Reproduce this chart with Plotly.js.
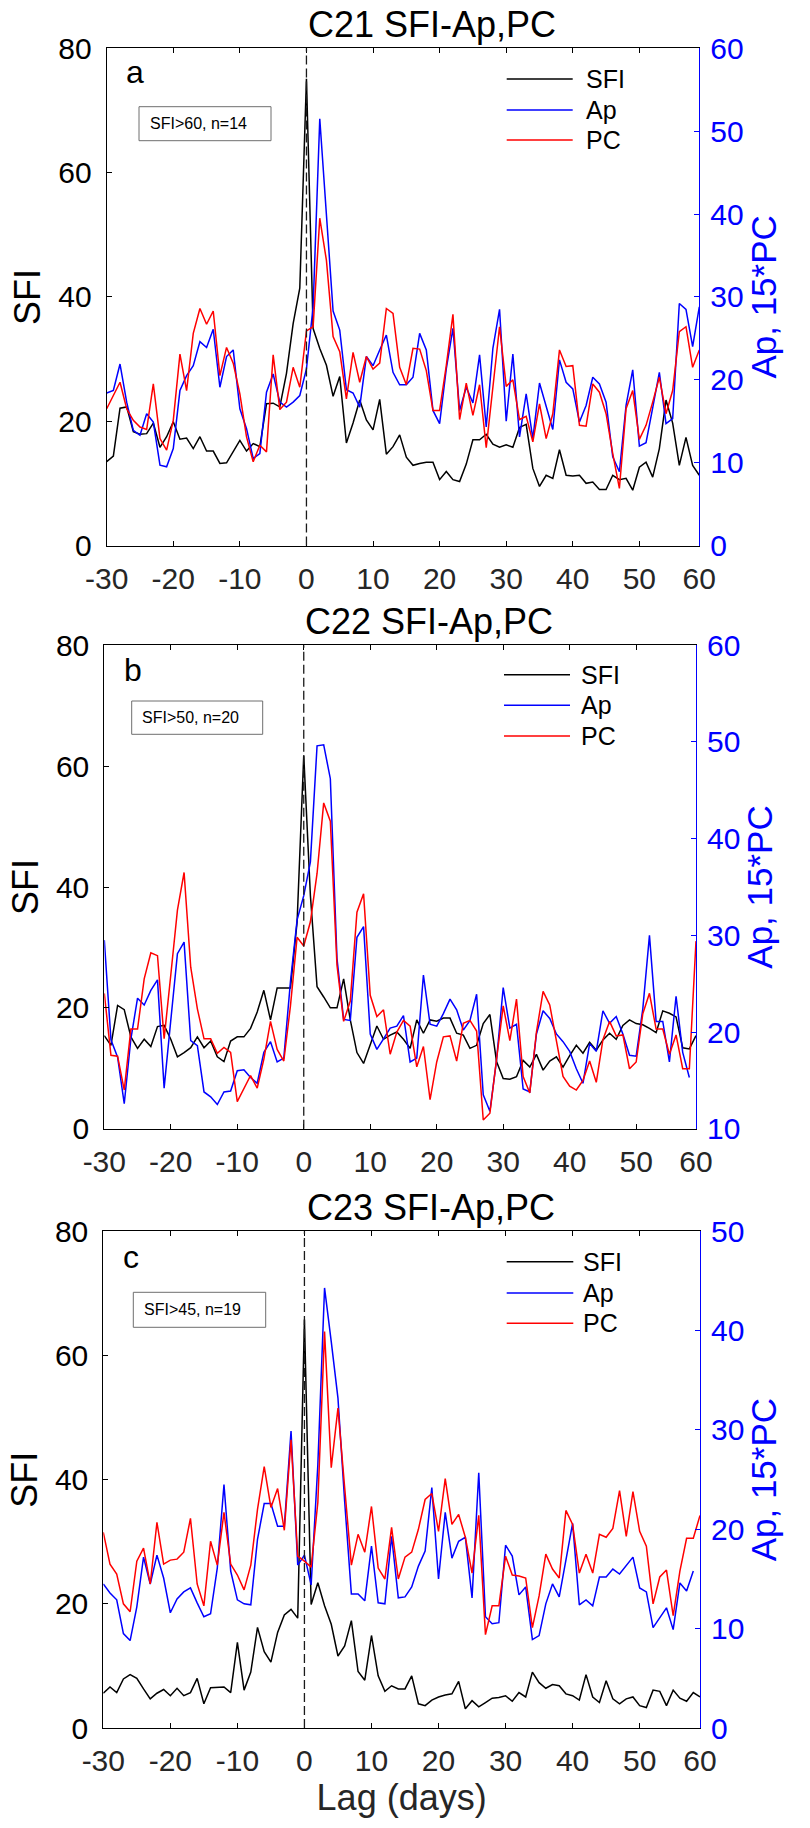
<!DOCTYPE html>
<html><head><meta charset="utf-8">
<script src="https://cdn.plot.ly/plotly-3.0.1.min.js"></script>
<style>html,body{margin:0;padding:0;background:#fff}#chart{width:810px;height:1828px}</style>
</head><body><div id="chart"></div>
<script>
// ---------- DATA ----------
const lag = [-30,-29,-28,-27,-26,-25,-24,-23,-22,-21,-20,-19,-18,-17,-16,-15,-14,-13,-12,-11,
 -10,-9,-8,-7,-6,-5,-4,-3,-2,-1,0,1,2,3,4,5,6,7,8,9,10,11,12,13,14,15,16,17,18,19,
 20,21,22,23,24,25,26,27,28,29,30,31,32,33,34,35,36,37,38,39,40,41,42,43,44,45,46,47,48,49,
 50,51,52,53,54,55,56,57,58,59];

// Panel a (C21)
const sfiC21 = [13.5,14.4,22.1,22.3,18.3,17.9,18.0,19.7,15.8,17.5,
 19.9,17.1,17.3,15.6,17.5,15.2,15.2,13.2,13.3,15.1,
 16.9,15.2,16.4,15.9,22.8,22.9,22.3,27.7,35.7,41.4,
 75.1,34.9,31.7,29.0,24.0,27.2,16.5,19.7,23.4,20.2,
 18.6,23.5,14.7,15.9,17.8,14.2,12.9,13.2,13.4,13.4,
 10.6,11.9,10.6,10.3,13.1,17.0,17.0,17.9,16.3,15.8,
 16.2,15.8,19.0,19.5,12.4,9.5,11.3,10.8,15.4,11.3,
 11.2,11.3,10.0,10.2,9.0,9.0,11.3,10.6,10.8,8.9,
 12.6,13.4,11.0,15.6,23.4,19.7,12.9,17.4,12.9,11.3];
const apC21 = [18.4,18.7,21.9,17.3,13.9,13.3,15.9,14.9,9.7,9.5,
 11.7,18.7,20.5,21.7,24.6,23.9,26.1,19.1,22.8,23.6,
 16.5,14.1,10.5,11.1,18.5,20.7,17.3,16.7,17.3,18.1,
 21.3,28.8,51.5,40.0,28.3,26.0,18.8,18.4,16.7,22.8,
 21.7,23.6,25.4,20.9,19.4,19.4,20.3,25.6,23.6,16.3,
 14.7,21.3,26.2,16.3,19.1,17.2,23.0,14.3,23.8,28.5,
 15.0,23.1,13.1,18.3,12.9,19.6,16.7,14.0,22.4,19.7,
 18.9,14.9,16.9,20.3,19.5,17.3,10.7,8.9,16.9,21.2,
 12.0,12.4,16.6,20.9,14.7,15.3,29.2,28.5,24.0,28.8];
const pcC21 = [16.5,18.1,19.7,16.5,15.1,14.3,14.0,19.5,12.9,11.5,
 15.1,23.1,18.7,25.6,28.6,26.7,28.3,20.5,23.9,22.0,
 18.3,13.1,10.1,12.1,11.3,23.0,16.4,17.3,21.5,19.1,
 25.9,26.4,39.5,34.4,25.2,23.4,17.7,23.3,19.7,22.8,
 21.3,22.0,28.6,28.0,21.5,19.4,23.8,23.7,21.1,16.3,
 16.3,21.7,27.9,15.2,19.6,15.7,19.4,11.8,19.5,26.4,
 19.2,20.0,15.2,15.6,12.5,17.1,12.9,15.9,23.6,21.6,
 21.7,14.5,14.4,19.5,18.5,15.9,11.1,6.9,16.5,18.7,
 12.8,14.5,17.3,20.3,15.9,18.7,25.8,26.4,21.5,23.6];

// Panel b (C22)
const sfiC22 = [15.4,13.8,20.4,19.7,15.2,13.3,14.8,13.6,16.9,17.1,
 14.8,11.9,12.6,13.4,15.2,13.4,14.5,11.9,11.1,14.5,
 15.2,15.2,16.6,19.3,22.9,18.0,23.3,23.3,23.3,34.2,
 61.8,38.6,23.5,21.8,20.0,20.0,24.8,18.0,12.6,10.8,
 13.8,17.0,14.8,15.5,16.0,14.8,13.3,18.0,15.8,18.0,
 17.8,18.3,18.3,15.8,15.5,13.3,13.8,17.4,18.9,11.1,
 8.3,8.2,8.6,11.3,10.2,12.3,9.7,11.2,11.9,10.2,
 12.1,13.8,12.5,14.3,13.0,14.7,15.8,14.8,17.1,18.0,
 17.4,17.2,16.6,15.9,19.5,19.1,18.5,13.4,13.2,15.4];
const apC22 = [29.5,19.2,17.4,12.6,19.3,23.5,22.8,24.3,25.4,14.2,
 21.2,28.1,29.3,19.1,18.6,13.8,13.3,12.5,13.8,13.9,
 16.0,16.1,15.3,14.7,17.9,19.0,16.9,17.3,25.2,31.6,
 34.1,37.6,49.6,49.7,46.2,27.6,21.3,21.2,29.8,30.9,
 19.8,18.2,19.3,20.4,20.6,21.7,16.9,17.3,25.9,20.8,
 20.6,21.9,23.4,22.3,20.2,21.2,23.9,13.5,11.8,17.1,
 24.6,20.4,20.8,14.1,13.8,19.8,22.2,21.4,19.8,19.0,
 18.0,16.2,14.7,18.8,18.0,22.2,20.9,21.6,19.8,17.6,
 17.5,22.4,30.0,21.1,21.1,16.9,23.7,17.9,15.3,null];
const pcC22 = [24.0,17.6,17.5,14.0,20.3,20.3,25.5,28.2,27.9,19.3,
 25.9,32.6,36.5,26.7,22.4,19.3,19.3,17.8,18.4,17.9,
 12.8,14.1,15.5,14.2,17.2,21.1,18.2,17.0,22.7,29.8,
 28.9,31.4,36.4,43.7,41.8,26.9,21.1,23.2,32.4,34.3,
 23.8,21.6,22.3,17.7,20.0,21.2,20.6,16.4,18.5,13.0,
 16.9,19.5,19.6,17.0,20.9,21.2,20.1,10.9,11.6,17.2,
 22.7,19.1,23.4,15.4,13.7,20.0,24.2,22.8,19.2,15.4,
 14.4,14.0,15.0,17.0,14.8,19.2,21.1,19.6,19.7,16.2,
 16.9,21.9,24.0,20.3,20.3,17.7,19.7,16.2,16.2,29.4];

// Panel c (C23)
const sfiC23 = [5.6,6.6,5.7,7.9,8.6,8.0,6.3,4.7,5.6,6.2,
 5.2,6.4,5.2,5.7,8.0,3.9,6.5,6.6,6.6,5.7,
 13.8,6.1,9.0,16.2,12.3,10.6,15.4,18.2,19.1,17.7,
 65.8,19.9,23.4,19.7,16.7,11.6,13.2,17.3,9.1,7.7,
 14.9,8.4,5.9,6.8,6.3,6.3,8.4,3.9,3.6,4.5,
 5.0,5.3,5.5,7.5,3.1,4.4,3.4,4.1,4.8,4.9,
 5.2,4.3,5.7,5.0,9.0,7.3,6.4,7.0,6.8,5.5,
 5.2,4.5,8.6,5.0,4.1,7.6,4.7,3.9,4.7,5.0,
 3.6,3.3,6.1,5.9,3.6,6.1,4.8,4.3,5.7,5.0];
const apC23 = [14.5,13.6,12.9,9.5,8.8,12.2,17.2,14.5,17.4,15.1,
 11.6,13.0,13.7,14.1,12.6,11.2,11.5,16.1,24.5,15.8,
 12.9,12.5,12.4,19.0,22.6,22.6,20.3,20.3,29.9,16.4,
 17.4,14.4,26.5,44.3,38.9,33.2,22.8,13.5,13.5,12.8,
 18.3,12.6,12.5,19.3,13.1,13.2,14.2,16.3,17.8,24.2,
 15.0,21.7,17.1,18.8,19.2,13.1,25.7,11.2,10.5,10.6,
 18.4,17.3,13.4,14.2,8.9,9.3,12.5,14.5,13.2,17.0,
 20.6,12.4,12.9,12.3,15.2,15.2,16.0,15.5,16.3,17.2,
 14.1,13.7,10.1,11.1,12.1,9.9,14.6,13.8,15.8,null];
const pcC23 = [19.7,16.5,15.5,12.5,11.7,16.8,18.1,14.5,20.7,16.5,
 16.9,17.0,17.7,21.1,14.5,12.3,18.8,16.4,21.7,16.5,
 15.4,13.9,16.4,22.0,26.3,22.2,24.1,19.9,29.0,17.3,
 16.8,16.2,22.7,39.9,26.2,32.2,24.2,16.4,19.5,17.7,
 22.3,16.1,15.0,20.2,15.0,17.2,17.7,20.0,23.0,23.6,
 19.8,25.1,20.5,21.5,19.2,15.6,21.4,9.4,12.3,12.3,
 17.3,15.4,15.3,15.1,10.1,13.3,17.5,16.0,15.1,21.9,
 20.5,15.6,17.5,15.6,19.5,19.2,20.1,23.9,19.3,23.8,
 19.8,18.3,12.5,15.2,15.9,11.3,15.8,19.1,19.1,21.4];

const panelTitles = ['C21 SFI-Ap,PC','C22 SFI-Ap,PC','C23 SFI-Ap,PC'];
const panelLetters = ['a','b','c'];
const boxLabels = ['SFI>60, n=14','SFI>50, n=20','SFI>45, n=19'];
const seriesNames = ['SFI','Ap','PC'];
const rightRanges = [[0,60],[10,60],[0,50]];
const leftRange = [0,80];
const xRange = [-30,59];
const xTickVals = [-30,-20,-10,0,10,20,30,40,50,59];
const xTickText = ['-30','-20','-10','0','10','20','30','40','50','60'];
const leftTickVals = [0,20,40,60,80];
const xTitle = 'Lag (days)';
const leftTitle = 'SFI';
const rightTitle = 'Ap, 15*PC';

// ---------- LAYOUT GEOMETRY (px) ----------
const W = 810, H = 1828;
const FONT = 'Liberation Sans, Arial, Helvetica, sans-serif';
const colors = ['#000000','#0000ff','#ff0000'];
const geo = [
  {l:106.7, r:699.3, t:48.3,  b:545.5,  titleX:432, titleBase:37,
   letX:124, letBase:83, box:[139,271,106.7,140.7], boxTx:147.7,
   leg:{x0:506.7,x1:572.7,tx:584,ys:[79,110,140]}},
  {l:104.3, r:696.0, t:645.3, b:1128.7, titleX:429, titleBase:634,
   letX:121.7, letBase:681.3, box:[131.7,262.7,701,734.3], boxTx:140,
   leg:{x0:504,x1:570,tx:579,ys:[674.7,705.3,736]}},
  {l:103.3, r:700.0, t:1231.3, b:1728, titleX:431, titleBase:1220,
   letX:120.7, letBase:1268, box:[133.3,265.7,1292.3,1327.3], boxTx:142.3,
   leg:{x0:506.7,x1:573.3,tx:581,ys:[1261.7,1293,1323.3]}}
];
const px = v => v / W;
const py = v => 1 - v / H;

const sfiSets = [sfiC21, sfiC22, sfiC23];
const apSets = [apC21, apC22, apC23];
const pcSets = [pcC21, pcC22, pcC23];

const traces = [];
const layout = {
  width: W, height: H,
  margin: {l:0, r:0, t:0, b:0},
  paper_bgcolor: '#ffffff', plot_bgcolor: '#ffffff',
  showlegend: false,
  font: {family: FONT, color: '#000000'},
  shapes: [], annotations: []
};

for (let i = 0; i < 3; i++) {
  const g = geo[i];
  const xn = i === 0 ? '' : String(i + 1);
  const yl = String(2 * i + 1), yr = String(2 * i + 2);
  const xa = 'x' + xn, ya = yl === '1' ? 'y' : 'y' + yl, yb = 'y' + yr;

  traces.push({x: lag, y: sfiSets[i], xaxis: xa, yaxis: ya, type: 'scatter', mode: 'lines',
    name: seriesNames[0], line: {color: colors[0], width: 1.5}});
  traces.push({x: lag, y: apSets[i], xaxis: xa, yaxis: yb, type: 'scatter', mode: 'lines',
    name: seriesNames[1], line: {color: colors[1], width: 1.5}});
  traces.push({x: lag, y: pcSets[i], xaxis: xa, yaxis: yb, type: 'scatter', mode: 'lines',
    name: seriesNames[2], line: {color: colors[2], width: 1.5}});

  const xKey = 'xaxis' + xn, yKeyL = 'yaxis' + (yl === '1' ? '' : yl), yKeyR = 'yaxis' + yr;
  layout[xKey] = {
    domain: [px(g.l), px(g.r)], anchor: ya, range: xRange,
    tickmode: 'array', tickvals: xTickVals, ticktext: xTickText,
    ticks: 'inside', ticklen: 5, tickwidth: 1, tickcolor: '#000000',
    showline: true, linecolor: '#000000', linewidth: 1, mirror: 'ticks',
    showgrid: false, zeroline: false, fixedrange: true,
    tickfont: {family: FONT, size: 30, color: '#262626'}, ticklabelstandoff: 6
  };
  if (i === 2) {
    layout[xKey].title = {text: xTitle, font: {family: FONT, size: 36, color: '#262626'}, standoff: 8};
  }
  layout[yKeyL] = {
    domain: [py(g.b), py(g.t)], anchor: xa, range: leftRange,
    tickmode: 'array', tickvals: leftTickVals,
    ticks: 'inside', ticklen: 5, tickwidth: 1, tickcolor: '#000000',
    showline: true, linecolor: '#000000', linewidth: 1,
    showgrid: false, zeroline: false, fixedrange: true,
    tickfont: {family: FONT, size: 30, color: '#000000'}, ticklabelstandoff: 8,
    title: {text: leftTitle, font: {family: FONT, size: 36, color: '#000000'}, standoff: 6}
  };
  layout[yKeyR] = {
    overlaying: ya, side: 'right', anchor: xa, range: rightRanges[i], dtick: 10, tick0: 0,
    ticks: 'inside', ticklen: 5, tickwidth: 1, tickcolor: '#0000ff',
    showline: true, linecolor: '#0000ff', linewidth: 1,
    showgrid: false, zeroline: false, fixedrange: true,
    tickfont: {family: FONT, size: 30, color: '#0000ff'}, ticklabelstandoff: 4,
    title: {text: rightTitle, font: {family: FONT, size: 35, color: '#0000ff'}, standoff: 8}
  };

  // dashed zero-lag line (data coordinate x=0)
  layout.shapes.push({type: 'line', xref: xa, yref: ya + ' domain', x0: 0, x1: 0, y0: 0, y1: 1,
    line: {color: '#1a1a1a', width: 1.3, dash: '9px,4px'}});

  // panel title
  layout.annotations.push({text: panelTitles[i], xref: 'paper', yref: 'paper',
    x: px(g.titleX), y: py(g.titleBase - 12.6), xanchor: 'center', yanchor: 'middle',
    showarrow: false, font: {family: FONT, size: 36, color: '#000000'}});
  // panel letter
  layout.annotations.push({text: panelLetters[i], xref: 'paper', yref: 'paper',
    x: px(g.letX), y: py(g.letBase - 11.2), xanchor: 'left', yanchor: 'middle',
    showarrow: false, font: {family: FONT, size: 32, color: '#000000'}});
  // criterion box
  layout.shapes.push({type: 'rect', xref: 'paper', yref: 'paper',
    x0: px(g.box[0]), x1: px(g.box[1]), y0: py(g.box[3]), y1: py(g.box[2]),
    line: {color: '#6e6e6e', width: 1}, fillcolor: '#ffffff', layer: 'above'});
  layout.annotations.push({text: boxLabels[i], xref: 'paper', yref: 'paper',
    x: px(g.boxTx), y: py((g.box[2] + g.box[3]) / 2), xanchor: 'left', yanchor: 'middle',
    showarrow: false, font: {family: FONT, size: 16, color: '#000000'}});
  // legend
  for (let k = 0; k < 3; k++) {
    layout.shapes.push({type: 'line', xref: 'paper', yref: 'paper',
      x0: px(g.leg.x0), x1: px(g.leg.x1), y0: py(g.leg.ys[k]), y1: py(g.leg.ys[k]),
      line: {color: colors[k], width: 1.5}, layer: 'above'});
    layout.annotations.push({text: seriesNames[k], xref: 'paper', yref: 'paper',
      x: px(g.leg.tx), y: py(g.leg.ys[k]), xanchor: 'left', yanchor: 'middle',
      showarrow: false, font: {family: FONT, size: 25, color: '#000000'}});
  }
}

Plotly.newPlot('chart', traces, layout, {staticPlot: true, displayModeBar: false});
</script>
</body></html>
